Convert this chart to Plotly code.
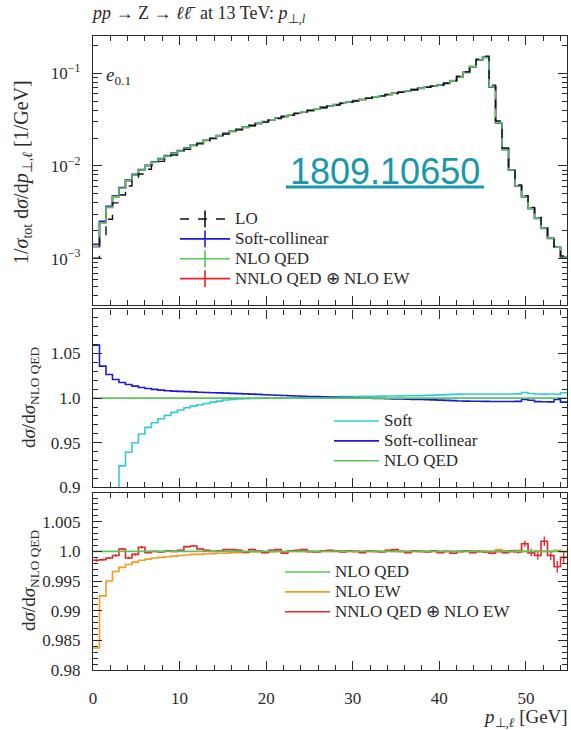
import plotly.graph_objects as go

# ---- binning: 73 bins of 0.75 GeV in the lepton transverse momentum ----
BIN_WIDTH = 0.75
N_BINS = 73

# normalised spectrum 1/sigma dsigma/dpT [1/GeV], NLO QED
nlo_qed = [
    0.00135, 0.00244, 0.00358, 0.00467, 0.00574, 0.00695, 0.00800, 0.00906, 0.01007, 0.01096,
    0.01189, 0.01282, 0.01370, 0.01452, 0.0155, 0.0166, 0.0177, 0.0188, 0.0200, 0.0212,
    0.0224, 0.0236, 0.0248, 0.0261, 0.0274, 0.0287, 0.0300, 0.0314, 0.0328, 0.0342,
    0.0356, 0.0370, 0.0384, 0.0398, 0.0413, 0.0428, 0.0443, 0.0458, 0.0474, 0.0490,
    0.0506, 0.0522, 0.0539, 0.0556, 0.0573, 0.0591, 0.0609, 0.0628, 0.0647, 0.0667,
    0.0688, 0.0709, 0.0728, 0.0746, 0.0780, 0.0832, 0.0920, 0.1026, 0.1180, 0.1390,
    0.1490, 0.0716, 0.0293, 0.0151, 0.00906, 0.00608, 0.00467, 0.00349, 0.00273, 0.00213,
    0.00166, 0.00133, 0.00105,
]

# normalised spectrum, LO
lo = [
    0.00101, 0.00166, 0.00266, 0.00400, 0.00486, 0.00608, 0.00706, 0.00820, 0.00920, 0.01020,
    0.01120, 0.01220, 0.01315, 0.01405, 0.0151, 0.0162, 0.0173, 0.0185, 0.0197, 0.0209,
    0.0221, 0.0233, 0.0245, 0.0258, 0.0271, 0.0284, 0.0297, 0.0311, 0.0325, 0.0339,
    0.0353, 0.0367, 0.0381, 0.0395, 0.0410, 0.0425, 0.0440, 0.0455, 0.0471, 0.0487,
    0.0503, 0.0519, 0.0536, 0.0553, 0.0570, 0.0588, 0.0606, 0.0625, 0.0644, 0.0664,
    0.0685, 0.0706, 0.0726, 0.0745, 0.0781, 0.0835, 0.0925, 0.1035, 0.1195, 0.1415,
    0.1530, 0.0745, 0.0305, 0.0156, 0.00935, 0.00625, 0.00478, 0.00357, 0.00279, 0.00217,
    0.00169, 0.00135, 0.00107,
]

# ratios to NLO QED
softcoll_ratio = [
    1.0593, 1.0358, 1.0265, 1.0209, 1.0175, 1.0153, 1.0134, 1.0119, 1.0108, 1.0097,
    1.0089, 1.0082, 1.0078, 1.0075, 1.0072, 1.0069, 1.0066, 1.0063, 1.0060, 1.0058,
    1.0055, 1.0053, 1.0050, 1.0047, 1.0044, 1.0041, 1.0038, 1.0035, 1.0032, 1.0029,
    1.0026, 1.0024, 1.0021, 1.0018, 1.0016, 1.0013, 1.0011, 1.0009, 1.0007, 1.0005,
    1.0003, 1.0001, 0.9999, 0.9997, 0.9995, 0.9993, 0.9991, 0.9989, 0.9987, 0.9986,
    0.9985, 0.9983, 0.9980, 0.9977, 0.9974, 0.9971, 0.9968, 0.9966, 0.9965, 0.9964,
    0.9963, 0.9962, 0.9962, 0.9961, 0.9961, 0.9963, 0.9985, 0.9975, 0.9960, 0.9958,
    0.9957, 0.9985, 0.9955,
]

soft_ratio = [
    0.600, 0.800, 0.860, 0.893, 0.924, 0.9393, 0.9500, 0.9597, 0.9672, 0.9724,
    0.9769, 0.9806, 0.9840, 0.9866, 0.9892, 0.9910, 0.9925, 0.9940, 0.9955, 0.9966,
    0.9978, 0.9985, 0.9989, 0.9992, 0.9995, 0.9997, 0.9999, 1.0001, 1.0003, 1.0004,
    1.0006, 1.0007, 1.0009, 1.0010, 1.0011, 1.0013, 1.0014, 1.0015, 1.0016, 1.0017,
    1.0018, 1.0019, 1.0020, 1.0021, 1.0022, 1.0023, 1.0024, 1.0025, 1.0026, 1.0027,
    1.0028, 1.0030, 1.0033, 1.0036, 1.0039, 1.0042, 1.0044, 1.0045, 1.0046, 1.0046,
    1.0046, 1.0045, 1.0045, 1.0046, 1.0046, 1.0047, 1.0062, 1.0052, 1.0046, 1.0044,
    1.0045, 1.0043, 1.0060,
]

nlo_ew_ratio = [
    0.9837, 0.9925, 0.9950, 0.9966, 0.9973, 0.9978, 0.9982, 0.9985, 0.9987, 0.9989,
    0.9990, 0.9991, 0.9992, 0.9993, 0.9994, 0.9995, 0.9995, 0.9996, 0.9996, 0.9997,
    0.9997, 0.9998, 0.9998, 0.9998, 0.9999, 0.9999, 0.9999, 0.9999, 1.0000, 0.9999,
    1.0000, 1.0000, 1.0000, 0.9999, 1.0000, 1.0000, 1.0000, 1.0000, 1.0001, 1.0000,
    1.0000, 1.0000, 1.0000, 1.0000, 1.0000, 1.0001, 1.0000, 1.0000, 1.0000, 1.0000,
    1.0000, 1.0000, 1.0000, 1.0000, 1.0000, 1.0000, 0.9999, 1.0000, 1.0001, 1.0000,
    1.0000, 1.0000, 1.0003, 1.0001, 0.9999, 1.0002, 1.0000, 0.9998, 1.0001, 1.0000,
    1.0000, 1.0002, 0.9999,
]

nnlo_ratio = [
    0.9985, 0.9986, 0.9989, 0.9993, 1.0004, 0.9989, 0.9995, 1.0007, 0.9998, 1.0000,
    0.9999, 1.0001, 1.0000, 1.0002, 1.0008, 1.0009, 1.0004, 1.0002, 1.0000, 1.0001,
    1.0003, 1.0003, 1.0002, 0.9999, 1.0003, 1.0001, 0.9998, 1.0002, 1.0003, 0.9997,
    1.0001, 1.0002, 1.0003, 1.0000, 0.9999, 1.0001, 1.0002, 1.0001, 0.9999, 1.0001,
    1.0000, 0.9998, 1.0001, 1.0000, 0.9999, 1.0002, 1.0003, 1.0000, 0.9998, 1.0001,
    1.0000, 0.9999, 1.0001, 0.9998, 1.0000, 0.9997, 1.0000, 1.0001, 0.9998, 1.0000,
    0.9999, 0.9997, 1.0000, 0.9998, 1.0001, 0.9999, 1.0013, 0.9998, 0.9993, 1.0017,
    0.9993, 0.9974, 0.9990,
]

nnlo_err = [
    0.0003, 0.0002, 0.0002, 0.0002, 0.0002, 0.0002, 0.0002, 0.0002, 0.0001, 0.0001,
    0.0001, 0.0001, 0.0001, 0.0001, 0.0001, 0.0001, 0.0001, 0.0001, 0.0001, 0.0001,
    0.0001, 0.0001, 0.0001, 0.0001, 0.0001, 0.0001, 0.0001, 0.0001, 0.0001, 0.0001,
    0.0001, 0.0001, 0.0001, 0.0001, 0.0001, 0.0001, 0.0001, 0.0001, 0.0001, 0.0001,
    0.0001, 0.0001, 0.0001, 0.0001, 0.0001, 0.0001, 0.0001, 0.0001, 0.0001, 0.0001,
    0.0001, 0.0001, 0.0001, 0.0001, 0.0001, 0.0001, 0.0001, 0.0001, 0.0001, 0.0002,
    0.0002, 0.0002, 0.0002, 0.0002, 0.0002, 0.0003, 0.0005, 0.0006, 0.0007, 0.0008,
    0.0008, 0.0010, 0.0009,
]

y_ticks_top = [1e-3, 1e-2, 1e-1]
y_ticktext_top = ["10<sup>\u22123</sup>", "10<sup>\u22122</sup>", "10<sup>\u22121</sup>"]
y_ticks_mid = [0.9, 0.95, 1.0, 1.05]
y_ticktext_mid = ["0.9", "0.95", "1.0", "1.05"]
y_ticks_bot = [0.98, 0.985, 0.99, 0.995, 1.0, 1.005]
y_ticktext_bot = ["0.98", "0.985", "0.99", "0.995", "1.0", "1.005"]

# ---- derived arrays ----
edges = [i * BIN_WIDTH for i in range(N_BINS + 1)]
centers = [(i + 0.5) * BIN_WIDTH for i in range(N_BINS)]
ones = [1.0] * N_BINS
softcoll = [a * b for a, b in zip(nlo_qed, softcoll_ratio)]
nnlo = [a * b for a, b in zip(nlo_qed, nnlo_ratio)]


def steps(vals):
    return list(vals) + [vals[-1]]


BLACK = "#111111"
BLUE = "#1c1cd6"
GREEN = "#5cc45c"
RED = "#e8222a"
CYAN = "#33cccc"
ORANGE = "#f59a23"
FRAME = "#2a2a2a"
SERIF = "Liberation Serif"
LEG_SIZE = 17


def leg(name):
    # legend label drawn larger than the legend's row pitch font
    return f'<span style="font-size:{LEG_SIZE}px">{name}</span>'


fig = go.Figure()


def hist(vals, color, xa, ya, width=1.6, dash="solid", name=None, legend=None, show=False, rank=1000):
    fig.add_trace(go.Scatter(
        x=edges, y=steps(vals), mode="lines", line_shape="hv",
        line=dict(color=color, width=width, dash=dash),
        xaxis=xa, yaxis=ya, name=leg(name) if name else None, showlegend=show,
        legend=legend, legendrank=rank, hoverinfo="skip"))


# top panel: spectra
hist(nnlo, RED, "x", "y")
hist(softcoll, BLUE, "x", "y")
hist(nlo_qed, GREEN, "x", "y")
hist(lo, BLACK, "x", "y", width=1.4, dash="dash")

# legend entries (line with error-bar cross) for the top panel
for nm, col, dsh in [("LO", BLACK, "dash"), ("Soft-collinear", BLUE, "solid"),
                     ("NLO QED", GREEN, "solid"), ("NNLO QED \u2295 NLO EW", RED, "solid")]:
    fig.add_trace(go.Scatter(
        x=[None], y=[None], mode="lines+markers", name=leg(nm),
        line=dict(color=col, width=1.6, dash=dsh),
        marker=dict(symbol="line-ns-open", size=12, color=col, line=dict(color=col, width=1.6)),
        xaxis="x", yaxis="y", legend="legend", showlegend=True))

# middle panel: soft / soft-collinear approximations
hist(soft_ratio, CYAN, "x2", "y2", name="Soft", legend="legend2", show=True, rank=1)
hist(softcoll_ratio, BLUE, "x2", "y2", name="Soft-collinear", legend="legend2", show=True, rank=2)
hist(ones, GREEN, "x2", "y2", name="NLO QED", legend="legend2", show=True, rank=3)

# bottom panel: electroweak corrections
hist(nlo_ew_ratio, ORANGE, "x3", "y3", name="NLO EW", legend="legend3", show=True, rank=2)
hist(nnlo_ratio, RED, "x3", "y3", name="NNLO QED \u2295 NLO EW", legend="legend3", show=True, rank=3)
fig.add_trace(go.Scatter(
    x=centers, y=nnlo_ratio, mode="markers", marker=dict(size=1, color=RED),
    error_y=dict(type="data", array=nnlo_err, color=RED, thickness=1.3, width=0),
    xaxis="x3", yaxis="y3", showlegend=False, hoverinfo="skip"))
hist(ones, GREEN, "x3", "y3", name="NLO QED", legend="legend3", show=True, rank=1)

# ---- axes ----
tickfont = dict(family=SERIF, size=17, color=FRAME)
common_x = dict(range=[0, 54.75], showline=True, linecolor=FRAME, linewidth=1.4, mirror="allticks",
                ticks="inside", ticklen=9, tickwidth=1.2, tickcolor=FRAME, dtick=10, tick0=0,
                minor=dict(ticks="inside", ticklen=5, dtick=2, tick0=0, tickcolor=FRAME, tickwidth=1),
                showgrid=False, zeroline=False, tickfont=tickfont)
common_y = dict(showline=True, linecolor=FRAME, linewidth=1.4, mirror="allticks",
                ticks="inside", ticklen=9, tickwidth=1.2, tickcolor=FRAME,
                showgrid=False, zeroline=False, tickfont=tickfont, tickmode="array",
                ticklabelstandoff=8)

H = 634.0  # plot-area height in px (730 - 36 - 60)


def dom(top_px, bot_px):
    return [(670 - bot_px) / H, (670 - top_px) / H]


log_minor = [m * 10.0 ** e for e in (-4, -3, -2, -1) for m in range(2, 10)]

legend_common = dict(xanchor="left", yanchor="top", bgcolor="rgba(0,0,0,0)",
                     font=dict(family=SERIF, size=13, color=FRAME), tracegroupgap=0)

fig.update_layout(
    xaxis=dict(common_x, domain=[0, 1], anchor="y", showticklabels=False),
    xaxis2=dict(common_x, domain=[0, 1], anchor="y2", matches="x", showticklabels=False),
    xaxis3=dict(common_x, domain=[0, 1], anchor="y3", matches="x", showticklabels=True,
                ticklabelstandoff=12),
    yaxis=dict(common_y, domain=dom(36, 305), anchor="x", type="log", range=[-3.50, -0.598],
               tickvals=y_ticks_top, ticktext=y_ticktext_top,
               minor=dict(ticks="inside", ticklen=5, tickcolor=FRAME, tickwidth=1,
                          tickmode="array", tickvals=log_minor)),
    yaxis2=dict(common_y, domain=dom(309.3, 487.3), anchor="x2", range=[0.9, 1.0995],
                tickvals=y_ticks_mid, ticktext=y_ticktext_mid,
                minor=dict(ticks="inside", ticklen=5, dtick=0.01, tick0=0.9, tickcolor=FRAME, tickwidth=1)),
    yaxis3=dict(common_y, domain=dom(492.7, 670), anchor="x3", range=[0.98, 1.0099],
                tickvals=y_ticks_bot, ticktext=y_ticktext_bot,
                minor=dict(ticks="inside", ticklen=5, dtick=0.001, tick0=0.98, tickcolor=FRAME, tickwidth=1)),
    width=571, height=730,
    margin=dict(l=93, r=4, t=36, b=60),
    paper_bgcolor="white", plot_bgcolor="white",
    font=dict(family=SERIF, size=15, color=FRAME),
    title=dict(text="<i>pp</i> \u2192 Z \u2192 <i>\u2113\u2113\u0304</i>  at 13 TeV: <i>p</i><sub>\u22a5,<i>l</i></sub>",
               x=0.0, xref="paper", xanchor="left", y=1 - 13 / 730, yanchor="middle",
               font=dict(family=SERIF, size=18, color=FRAME)),
    legend=dict(legend_common, x=(175 - 93) / 474, y=(670 - 204) / H, itemwidth=50),
    legend2=dict(legend_common, x=(329 - 93) / 474, y=(670 - 406) / H, itemwidth=45),
    legend3=dict(legend_common, x=(280 - 93) / 474, y=(670 - 557) / H, itemwidth=45,
                 traceorder="normal"),
    showlegend=True,
)

# ---- text ----
ann = []
ann.append(dict(text="1/<i>\u03c3</i><sub>tot</sub> d<i>\u03c3</i>/d<i>p</i><sub>\u22a5,<i>\u2113</i></sub> [1/GeV]",
                x=(22 - 93) / 474, y=(670 - 172) / H, textangle=-90, size=20))
ann.append(dict(text="d<i>\u03c3</i>/d<i>\u03c3</i><sub>NLO QED</sub>",
                x=(30 - 93) / 474, y=(670 - 398) / H, textangle=-90))
ann.append(dict(text="d<i>\u03c3</i>/d<i>\u03c3</i><sub>NLO QED</sub>",
                x=(30 - 93) / 474, y=(670 - 581) / H, textangle=-90))
ann.append(dict(text="<i>e</i><sub>0.1</sub>", x=(118 - 93) / 474, y=(670 - 76) / H))
ann.append(dict(text="<i>p</i><sub>\u22a5,<i>\u2113</i></sub> [GeV]", x=(570 - 93) / 474,
                y=(670 - 718) / H, xanchor="right"))
for a in ann:
    a.setdefault("xanchor", "center")
    size = a.pop("size", 19)
    a.update(xref="paper", yref="paper", yanchor="middle", showarrow=False,
             font=dict(family=SERIF, size=size, color=FRAME))
ann.append(dict(text="1809.10650", x=(385 - 93) / 474, y=(670 - 171) / H, xref="paper", yref="paper",
                xanchor="center", yanchor="middle", showarrow=False,
                font=dict(family="Liberation Sans", size=36, color="#1a97a8")))
fig.update_layout(annotations=ann)
fig.add_shape(type="line", xref="paper", yref="paper",
              x0=(286 - 93) / 474, x1=(484 - 93) / 474, y0=(670 - 187) / H, y1=(670 - 187) / H,
              line=dict(color="#1a97a8", width=3))

fig.write_html("out.html")
